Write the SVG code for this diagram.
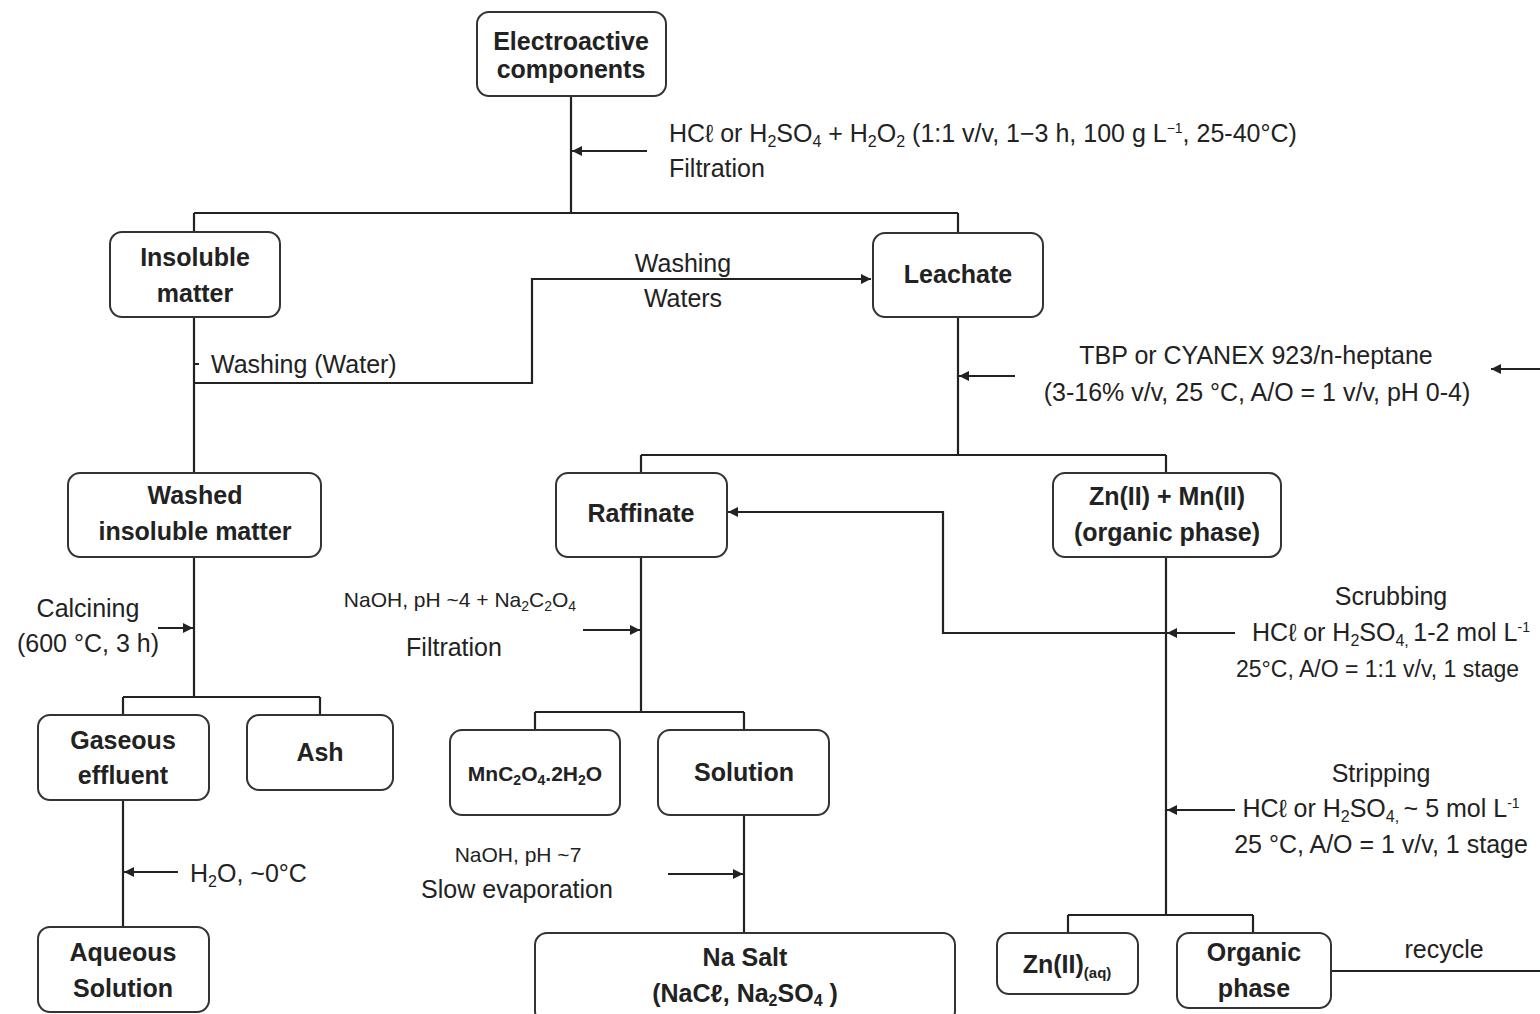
<svg xmlns="http://www.w3.org/2000/svg" width="1540" height="1014" viewBox="0 0 1540 1014">
<style>
.box{fill:#fff;stroke:#333;stroke-width:2}
.nt{font-family:"Liberation Sans",Arial,sans-serif;font-weight:bold;font-size:25px;fill:#222;text-anchor:middle}
.lb{font-family:"Liberation Sans",Arial,sans-serif;font-size:25px;fill:#222}
.c{text-anchor:middle}
.ln{fill:none;stroke:#222;stroke-width:2.2}
.ar{fill:none;stroke:#222;stroke-width:2.2;marker-end:url(#ah)}
</style>
<defs>
<marker id="ah" viewBox="0 0 10 10" refX="10" refY="5" markerWidth="12" markerHeight="10" markerUnits="userSpaceOnUse" orient="auto">
<path d="M0,0 L10,5 L0,10 z" fill="#222"/>
</marker>
</defs>
<rect width="1540" height="1014" fill="#fff"/>
<g id="connectors">
<path class="ln" d="M571,96 V213 M194,213 H958 M194,213 V232 M958,213 V233"/>
<path class="ar" d="M647,151 H572"/>
<path class="ln" d="M194,317 V473 M194,364 H199"/>
<path class="ar" d="M194,383 H532 V279 H871"/>
<path class="ln" d="M958,317 V455 M641,455 H1166 M641,455 V473 M1166,455 V473"/>
<path class="ar" d="M1015,376 H959"/>
<path class="ar" d="M1540,369 H1491"/>
<path class="ln" d="M194,557 V697 M123,697 H320 M123,697 V715 M320,697 V715"/>
<path class="ar" d="M158,628 H193"/>
<path class="ln" d="M123,800 V927"/>
<path class="ar" d="M178,872 H124"/>
<path class="ln" d="M641,557 V712 M535,712 H744 M535,712 V730 M744,712 V730"/>
<path class="ar" d="M583,630 H640"/>
<path class="ln" d="M744,815 V933"/>
<path class="ar" d="M668,874 H743"/>
<path class="ln" d="M1166,557 V915 M1068,915 H1253 M1068,915 V933 M1253,915 V933"/>
<path class="ar" d="M1235,633 H1167"/>
<path class="ar" d="M1166,633 H943 V512 H728"/>
<path class="ar" d="M1235,810 H1167"/>
<path class="ln" d="M1331,971 H1540"/>
</g>
<g id="n-electroactive"><rect class="box" x="477" y="12" width="189" height="84" rx="12"/><text class="nt" x="571" y="50">Electroactive</text><text class="nt" x="571" y="78">components</text></g>
<g id="n-insoluble"><rect class="box" x="110" y="232" width="170" height="85" rx="12"/><text class="nt" x="195" y="266">Insoluble</text><text class="nt" x="195" y="302">matter</text></g>
<g id="n-leachate"><rect class="box" x="873" y="233" width="170" height="84" rx="12"/><text class="nt" x="958" y="283">Leachate</text></g>
<g id="n-washed"><rect class="box" x="68" y="473" width="253" height="84" rx="12"/><text class="nt" x="195" y="504">Washed</text><text class="nt" x="195" y="540">insoluble matter</text></g>
<g id="n-raffinate"><rect class="box" x="556" y="473" width="171" height="84" rx="12"/><text class="nt" x="641" y="522">Raffinate</text></g>
<g id="n-znmn"><rect class="box" x="1053" y="473" width="228" height="84" rx="12"/><text class="nt" x="1167" y="505">Zn(II) + Mn(II)</text><text class="nt" x="1167" y="541">(organic phase)</text></g>
<g id="n-gaseous"><rect class="box" x="38" y="715" width="171" height="85" rx="12"/><text class="nt" x="123" y="749">Gaseous</text><text class="nt" x="123" y="784">effluent</text></g>
<g id="n-ash"><rect class="box" x="247" y="715" width="146" height="75" rx="12"/><text class="nt" x="320" y="761">Ash</text></g>
<g id="n-mnc2o4"><rect class="box" x="450" y="730" width="170" height="85" rx="12"/><text class="nt" x="535" y="781" style="font-size:21px">MnC<tspan font-size="14" dy="4">2</tspan><tspan dy="-4">O</tspan><tspan font-size="14" dy="4">4</tspan><tspan dy="-4">.2H</tspan><tspan font-size="14" dy="4">2</tspan><tspan dy="-4">O</tspan></text></g>
<g id="n-solution"><rect class="box" x="658" y="730" width="171" height="85" rx="12"/><text class="nt" x="744" y="781">Solution</text></g>
<g id="n-aqueous"><rect class="box" x="38" y="927" width="171" height="85" rx="12"/><text class="nt" x="123" y="961">Aqueous</text><text class="nt" x="123" y="997">Solution</text></g>
<g id="n-nasalt"><rect class="box" x="535" y="933" width="420" height="90" rx="12"/><text class="nt" x="745" y="966">Na Salt</text><text class="nt" x="745" y="1002">(NaCℓ,  Na<tspan font-size="16" dy="4">2</tspan><tspan dy="-4">SO</tspan><tspan font-size="16" dy="4">4</tspan><tspan dy="-4"> )</tspan></text></g>
<g id="n-znaq"><rect class="box" x="997" y="933" width="141" height="61" rx="12"/><text class="nt" x="1067" y="973">Zn(II)<tspan font-size="15" dy="5">(aq)</tspan></text></g>
<g id="n-organic"><rect class="box" x="1177" y="933" width="154" height="75" rx="12"/><text class="nt" x="1254" y="961">Organic</text><text class="nt" x="1254" y="997">phase</text></g>
<g id="labels">
<text class="lb" x="669" y="142">HCℓ or H<tspan font-size="16" dy="5">2</tspan><tspan dy="-5">SO</tspan><tspan font-size="16" dy="5">4</tspan><tspan dy="-5"> + H</tspan><tspan font-size="16" dy="5">2</tspan><tspan dy="-5">O</tspan><tspan font-size="16" dy="5">2</tspan><tspan dy="-5">  (1:1 v/v, 1−3 h, 100 g L</tspan><tspan font-size="14" dy="-9">−1</tspan><tspan dy="9">, 25-40°C)</tspan></text>
<text class="lb" x="669" y="177">Filtration</text>
<text class="lb" x="211" y="373">Washing (Water)</text>
<text class="lb c" x="683" y="272">Washing</text>
<text class="lb c" x="683" y="307">Waters</text>
<text class="lb c" x="1256" y="364">TBP or CYANEX 923/n-heptane</text>
<text class="lb c" x="1257" y="401">(3-16% v/v, 25 °C, A/O = 1 v/v, pH 0-4)</text>
<text class="lb c" x="88" y="617">Calcining</text>
<text class="lb c" x="88" y="652">(600 °C, 3 h)</text>
<text class="lb c" x="460" y="607" style="font-size:21px">NaOH, pH ~4 + Na<tspan font-size="14" dy="4">2</tspan><tspan dy="-4">C</tspan><tspan font-size="14" dy="4">2</tspan><tspan dy="-4">O</tspan><tspan font-size="14" dy="4">4</tspan></text>
<text class="lb c" x="454" y="656">Filtration</text>
<text class="lb c" x="518" y="862" style="font-size:21px">NaOH, pH ~7</text>
<text class="lb c" x="517" y="898">Slow evaporation</text>
<text class="lb" x="190" y="882">H<tspan font-size="16" dy="5">2</tspan><tspan dy="-5">O, ~0°C</tspan></text>
<text class="lb c" x="1391" y="605">Scrubbing</text>
<text class="lb c" x="1391" y="641">HCℓ or H<tspan font-size="16" dy="5">2</tspan><tspan dy="-5">SO</tspan><tspan font-size="16" dy="5">4, </tspan><tspan dy="-5">1-2 mol  L</tspan><tspan font-size="14" dy="-9">-1</tspan></text>
<text class="lb" x="1236" y="677" style="font-size:23px">25°C, A/O = 1:1 v/v, 1 stage</text>
<text class="lb c" x="1381" y="782">Stripping</text>
<text class="lb c" x="1381" y="817">HCℓ or H<tspan font-size="16" dy="5">2</tspan><tspan dy="-5">SO</tspan><tspan font-size="16" dy="5">4, </tspan><tspan dy="-5"> ~ 5 mol  L</tspan><tspan font-size="14" dy="-9">-1</tspan></text>
<text class="lb c" x="1381" y="853">25 °C, A/O = 1 v/v, 1 stage</text>
<text class="lb c" x="1444" y="958">recycle</text>
</g>
</svg>
